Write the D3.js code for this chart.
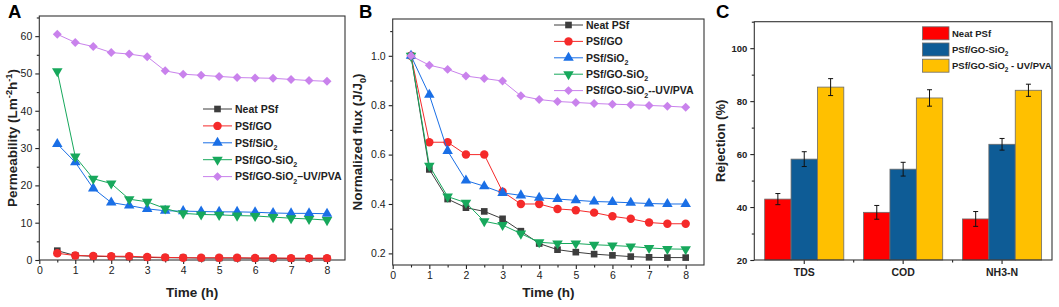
<!DOCTYPE html>
<html>
<head>
<meta charset="utf-8">
<script src="https://cdn.jsdelivr.net/npm/d3@7"></script>
<style>
  body { margin: 0; background: #fff; }
  svg { display: block; font-family: "Liberation Sans", Arial, sans-serif; }
</style>
</head>
<body>
<svg id="chart" width="1059" height="307"></svg>
<script>
// ---- data ----
const times = [0.5, 1, 1.5, 2, 2.5, 3, 3.5, 4, 4.5, 5, 5.5, 6, 6.5, 7, 7.5, 8];

// panel A: permeability (L m-2 h-1)
const permNeat   = [2.5, 1.2, 1.0, 0.9, 0.8, 0.7, 0.6, 0.6, 0.5, 0.5, 0.5, 0.45, 0.45, 0.4, 0.4, 0.4];
const permGO     = [1.8, 1.2, 1.1, 1.0, 1.0, 0.8, 0.7, 0.6, 0.6, 0.6, 0.6, 0.55, 0.55, 0.5, 0.5, 0.5];
const permSiO2   = [31.1, 26.2, 19.2, 15.4, 14.6, 13.7, 13.2, 13.1, 13.0, 12.9, 12.9, 12.8, 12.6, 12.5, 12.5, 12.4];
const permGOSiO2 = [50.6, 27.7, 21.8, 20.5, 16.3, 15.6, 13.8, 12.5, 12.2, 12.1, 11.9, 11.8, 11.5, 11.2, 11.0, 10.7];
const permUVPVA  = [60.5, 58.3, 57.2, 55.6, 55.2, 54.5, 50.7, 49.8, 49.5, 49.2, 48.9, 48.8, 48.7, 48.4, 48.1, 47.9];

// panel B: normalized flux (J/J0)
const fluxNeat   = [1.0, 0.54, 0.42, 0.385, 0.37, 0.34, 0.29, 0.24, 0.215, 0.205, 0.197, 0.192, 0.187, 0.184, 0.183, 0.183];
const fluxGO     = [1.0, 0.65, 0.65, 0.60, 0.60, 0.45, 0.40, 0.40, 0.38, 0.375, 0.365, 0.35, 0.34, 0.325, 0.32, 0.32];
const fluxSiO2   = [1.0, 0.842, 0.615, 0.495, 0.472, 0.445, 0.435, 0.425, 0.42, 0.415, 0.41, 0.408, 0.405, 0.402, 0.40, 0.40];
const fluxGOSiO2 = [1.0, 0.555, 0.43, 0.405, 0.33, 0.315, 0.28, 0.245, 0.24, 0.24, 0.235, 0.232, 0.228, 0.222, 0.218, 0.217];
const fluxUVPVA  = [1.0, 0.962, 0.945, 0.918, 0.908, 0.898, 0.838, 0.823, 0.815, 0.811, 0.807, 0.804, 0.802, 0.799, 0.796, 0.792];

// panel C: rejection (%)
const pollutants = ["TDS", "COD", "NH3-N"];
const rejNeat      = [43.0, 38.0, 35.5];
const rejNeatErr   = [2.1, 2.6, 2.8];
const rejGOSiO2    = [58.1, 54.3, 63.7];
const rejGOSiO2Err = [2.8, 2.6, 2.2];
const rejUVPVA     = [85.3, 81.2, 84.1];
const rejUVPVAErr  = [3.2, 3.1, 2.3];

const lineNamesA = ["Neat PSf", "PSf/GO", "PSf/SiO_{2}", "PSf/GO-SiO_{2}", "PSf/GO-SiO_{2}\u2013UV/PVA"];
const lineNamesB = ["Neat PSf", "PSf/GO", "PSf/SiO_{2}", "PSf/GO-SiO_{2}", "PSf/GO-SiO_{2}--UV/PVA"];
const barNames = ["Neat PSf", "PSf/GO-SiO_{2}", "PSf/GO-SiO_{2} - UV/PVA"];

const lineColors = ["#3d3d3d", "#f52a2a", "#1a6fe6", "#17a85c", "#c982ec"];
const barColors = ["#ff0000", "#0e5c96", "#ffc000"];

let svg = d3.select("#chart");

// text with _{sub} and ^{sup} parts
function rich(sel, str, fs) {
  const re = /([_^])\{([^}]*)\}/g;
  let last = 0, m, pending = 0;
  const add = (t) => {
    const ts = sel.append("tspan").text(t);
    if (pending) { ts.attr("dy", pending); pending = 0; }
    return ts;
  };
  while ((m = re.exec(str))) {
    if (m.index > last) add(str.slice(last, m.index));
    const shift = m[1] === "_" ? fs * 0.3 : -fs * 0.4;
    pending = shift;
    add(m[2]).attr("font-size", fs * 0.68);
    pending = -shift;
    last = re.lastIndex;
  }
  if (last < str.length) add(str.slice(last));
}

function symbolFor(i) {
  const types = [d3.symbolSquare, d3.symbolCircle, d3.symbolTriangle, d3.symbolTriangle, d3.symbolSquare];
  const sizes = [44, 56, 48, 48, 40];
  return { path: d3.symbol().type(types[i]).size(sizes[i])(), rot: i === 3 ? 180 : i === 4 ? 45 : 0 };
}

function frame(g, x0, x1, y0, y1) {
  g.append("rect")
    .attr("x", x0).attr("y", y0)
    .attr("width", x1 - x0).attr("height", y1 - y0)
    .attr("fill", "none").attr("stroke", "#333").attr("stroke-width", 1.1);
}

function styleAxis(ax, fs, bold) {
  ax.select(".domain").remove();
  ax.selectAll(".tick line").attr("stroke", "#222").attr("stroke-width", 1.1);
  ax.selectAll(".tick text")
    .attr("fill", "#222")
    .style("font-size", fs + "px")
    .style("font-weight", bold ? "bold" : "normal")
    .style("font-family", '"Liberation Sans", Arial, sans-serif');
}

function linePanel(opts) {
  const x = d3.scaleLinear().domain([0, 8.5]).range([opts.left, opts.right]);
  const y = d3.scaleLinear().domain(opts.yDomain).range([opts.bottom, opts.top]);
  const g = svg.append("g");

  // minor ticks
  const xMinor = d3.axisBottom(x).tickValues(d3.range(0.5, 8.5, 1)).tickSize(2.5).tickFormat("");
  styleAxis(g.append("g").attr("transform", "translate(0," + opts.bottom + ")").call(xMinor), 10);
  const yMinor = d3.axisLeft(y).tickValues(opts.yMinor).tickSize(2.5).tickFormat("");
  styleAxis(g.append("g").attr("transform", "translate(" + opts.left + ",0)").call(yMinor), 10);

  const xAxis = d3.axisBottom(x).tickValues(d3.range(0, 9, 1)).tickSize(4).tickPadding(3).tickFormat(d3.format("d"));
  styleAxis(g.append("g").attr("transform", "translate(0," + opts.bottom + ")").call(xAxis), 10.5);
  const yAxis = d3.axisLeft(y).tickValues(opts.yTicks).tickSize(4).tickPadding(3).tickFormat(opts.yFormat);
  styleAxis(g.append("g").attr("transform", "translate(" + opts.left + ",0)").call(yAxis), 10.5);

  frame(g, opts.left, opts.right, opts.top, opts.bottom);

  // series: line then markers, in order
  opts.series.forEach((vals, i) => {
    const pts = times.map((t, k) => [t, vals[k]]);
    g.append("path")
      .attr("d", d3.line().x(d => x(d[0])).y(d => y(d[1]))(pts))
      .attr("fill", "none")
      .attr("stroke", lineColors[i])
      .attr("stroke-width", 1);
    const s = symbolFor(i);
    g.selectAll(null).data(pts).enter().append("path")
      .attr("d", s.path)
      .attr("transform", d => "translate(" + x(d[0]) + "," + y(d[1]) + ") rotate(" + s.rot + ")")
      .attr("fill", lineColors[i]);
  });

  // legend
  opts.names.forEach((name, i) => {
    const ly = opts.legY + i * opts.legStep;
    g.append("line")
      .attr("x1", opts.legX).attr("x2", opts.legX + 29)
      .attr("y1", ly).attr("y2", ly)
      .attr("stroke", lineColors[i]).attr("stroke-width", 1);
    const s = symbolFor(i);
    g.append("path").attr("d", s.path)
      .attr("transform", "translate(" + (opts.legX + 14.5) + "," + ly + ") rotate(" + s.rot + ")")
      .attr("fill", lineColors[i]);
    const t = g.append("text")
      .attr("x", opts.legX + 32).attr("y", ly + 3.8)
      .attr("font-size", 10.5).attr("font-weight", "bold").attr("fill", "#222");
    rich(t, name, 10.5);
  });

  // axis titles
  g.append("text")
    .attr("x", (opts.left + opts.right) / 2).attr("y", 297)
    .attr("text-anchor", "middle")
    .attr("font-size", 13.5).attr("font-weight", "bold").attr("fill", "#222")
    .text("Time (h)");
  const yt = g.append("text")
    .attr("transform", "translate(" + opts.yTitleX + "," + (opts.top + opts.bottom) / 2 + ") rotate(-90)")
    .attr("text-anchor", "middle")
    .attr("font-size", 13.5).attr("font-weight", "bold").attr("fill", "#222");
  rich(yt, opts.yTitle, 13.5);

  g.append("text")
    .attr("x", opts.labelX).attr("y", 17.5)
    .attr("font-size", 18.5).attr("font-weight", "bold").attr("fill", "#000")
    .text(opts.label);
}

linePanel({
  left: 39.3, right: 345, top: 16, bottom: 260,
  yDomain: [0, 65.4],
  yTicks: d3.range(0, 61, 10),
  yMinor: d3.range(5, 66, 10),
  yFormat: d3.format("d"),
  series: [permNeat, permGO, permSiO2, permGOSiO2, permUVPVA],
  names: lineNamesA,
  legX: 203, legY: 109, legStep: 16.9,
  yTitle: "Permeability (Lm^{-2}h^{-1})",
  yTitleX: 17,
  label: "A", labelX: 8
});

linePanel({
  left: 392.7, right: 704, top: 19, bottom: 265,
  yDomain: [0.153, 1.149],
  yTicks: [0.2, 0.4, 0.6, 0.8, 1.0],
  yMinor: [0.3, 0.5, 0.7, 0.9, 1.1],
  yFormat: d3.format(".1f"),
  series: [fluxNeat, fluxGO, fluxSiO2, fluxGOSiO2, fluxUVPVA],
  names: lineNamesB,
  legX: 554, legY: 25, legStep: 16.4,
  yTitle: "Normalized flux (J/J_{0})",
  yTitleX: 362,
  label: "B", labelX: 359
});

// ---- panel C: grouped bars ----
(function () {
  const dims = { left: 754.3, right: 1052, top: 21.7, bottom: 260 };
  const g = svg.append("g");
  const x = d3.scaleBand().domain(pollutants).range([dims.left, dims.right]).paddingInner(0.2).paddingOuter(0.105);
  const xs = d3.scaleBand().domain(barNames).range([0, x.bandwidth()]);
  const y = d3.scaleLinear().domain([20, 110]).range([dims.bottom, dims.top]);

  const yMinor = d3.axisLeft(y).tickValues([30, 50, 70, 90, 110]).tickSize(2.5).tickFormat("");
  styleAxis(g.append("g").attr("transform", "translate(" + dims.left + ",0)").call(yMinor), 10);
  const yAxis = d3.axisLeft(y).tickValues([20, 40, 60, 80, 100]).tickSize(4).tickPadding(3);
  styleAxis(g.append("g").attr("transform", "translate(" + dims.left + ",0)").call(yAxis), 9.5, true);

  const xAxis = d3.axisBottom(x).tickSize(4).tickPadding(5);
  styleAxis(g.append("g").attr("transform", "translate(0," + dims.bottom + ")").call(xAxis), 10.5, true);
  const gaps = pollutants.slice(0, -1).map(p => x(p) + x.bandwidth() + x.step() * x.paddingInner() / 2);
  g.selectAll(null).data(gaps).enter().append("line")
    .attr("x1", d => d).attr("x2", d => d)
    .attr("y1", dims.bottom).attr("y2", dims.bottom + 2.5)
    .attr("stroke", "#222").attr("stroke-width", 1.1);

  const series = [
    { name: barNames[0], vals: rejNeat, err: rejNeatErr },
    { name: barNames[1], vals: rejGOSiO2, err: rejGOSiO2Err },
    { name: barNames[2], vals: rejUVPVA, err: rejUVPVAErr }
  ];

  series.forEach((s, i) => {
    const rows = pollutants.map((p, k) => ({ p: p, v: s.vals[k], e: s.err[k] }));
    g.selectAll(null).data(rows).enter().append("rect")
      .attr("x", d => x(d.p) + xs(s.name))
      .attr("y", d => y(d.v))
      .attr("width", xs.bandwidth())
      .attr("height", d => dims.bottom - y(d.v))
      .attr("fill", barColors[i])
      .attr("stroke", "#6b6b6b").attr("stroke-width", 0.8);
    const eb = g.selectAll(null).data(rows).enter().append("g")
      .attr("transform", d => "translate(" + (x(d.p) + xs(s.name) + xs.bandwidth() / 2) + ",0)");
    eb.append("line")
      .attr("y1", d => y(d.v - d.e)).attr("y2", d => y(d.v + d.e))
      .attr("stroke", "#111").attr("stroke-width", 1);
    eb.selectAll(null).data(d => [d.v - d.e, d.v + d.e]).enter().append("line")
      .attr("x1", -2.5).attr("x2", 2.5)
      .attr("y1", d => y(d)).attr("y2", d => y(d))
      .attr("stroke", "#111").attr("stroke-width", 1);
  });

  frame(g, dims.left, dims.right, dims.top, dims.bottom);

  // legend
  barNames.forEach((name, i) => {
    const ly = 33.3 + i * 16.2;
    g.append("rect")
      .attr("x", 922.5).attr("y", ly - 6.5)
      .attr("width", 26.5).attr("height", 13)
      .attr("fill", barColors[i]).attr("stroke", "#6b6b6b").attr("stroke-width", 0.8);
    const t = g.append("text")
      .attr("x", 952).attr("y", ly + 3.5)
      .attr("font-size", 9.5).attr("font-weight", "bold").attr("fill", "#222");
    rich(t, name, 9.5);
  });

  g.append("text")
    .attr("transform", "translate(725," + (dims.top + dims.bottom) / 2 + ") rotate(-90)")
    .attr("text-anchor", "middle")
    .attr("font-size", 13).attr("font-weight", "bold").attr("fill", "#222")
    .text("Rejection (%)");

  g.append("text")
    .attr("x", 716).attr("y", 17.5)
    .attr("font-size", 18.5).attr("font-weight", "bold").attr("fill", "#000")
    .text("C");
})();
</script>
</body>
</html>
